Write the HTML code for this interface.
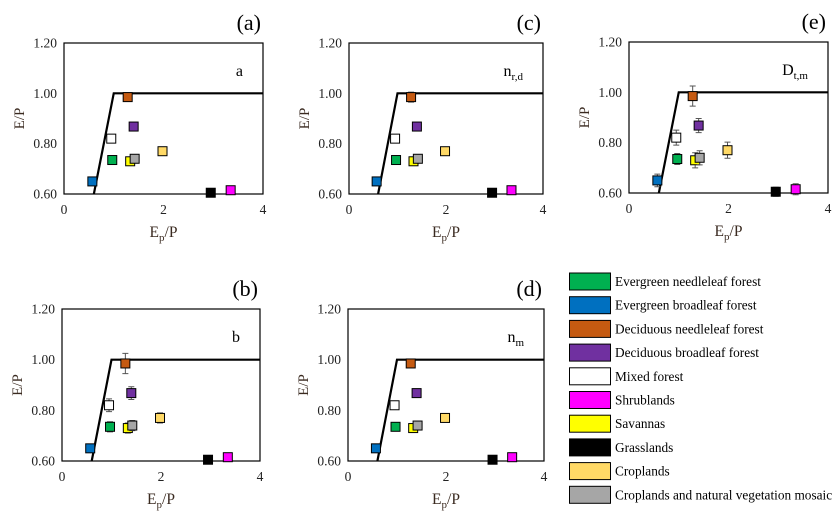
<!DOCTYPE html>
<html><head><meta charset="utf-8"><style>
body{margin:0;background:#fff;width:839px;height:515px;overflow:hidden}
svg{font-family:"Liberation Serif",serif}
</style></head><body>
<svg id="chart" width="839" height="515"></svg>
<script>
const categories=["Evergreen needleleaf forest","Evergreen broadleaf forest","Deciduous needleleaf forest","Deciduous broadleaf forest","Mixed forest","Shrublands","Savannas","Grasslands","Croplands","Croplands and natural vegetation mosaic"];
const colors=["#00b050","#0070c0","#c55a11","#7030a0","#ffffff","#ff00ff","#ffff00","#000000","#ffd966","#a6a6a6"];
const xVals=[0.97,0.57,1.28,1.40,0.95,3.35,1.33,2.95,1.98,1.42];
const yVals=[0.735,0.65,0.985,0.868,0.82,0.615,0.73,0.605,0.77,0.74];
const errA=[0,0,0,0,0,0,0,0,0,0];
const errB=[0.02,0.01,0.04,0.025,0.025,0.01,0.02,0.01,0.02,0.02];
const errC=[0.015,0.01,0.02,0.01,0.015,0.012,0.012,0.01,0.012,0.01];
const errD=[0.012,0.008,0.015,0.008,0.012,0.01,0.01,0.008,0.01,0.008];
const errE=[0.022,0.025,0.04,0.028,0.03,0.022,0.03,0.018,0.032,0.028];
const xTicks=[0,2,4];
const yTicks=[0.6,0.8,1.0,1.2];
const boundX=[0.6,1.0,4];
const boundY=[0.6,1.0,1.0];
const panels=[
 {id:"a",x0:64,x1:263,y0:43,y1:194,tag:"(a)",lab:"a",sub:"",err:errA},
 {id:"c",x0:349,x1:543,y0:43,y1:194,tag:"(c)",lab:"n",sub:"r,d",err:errC},
 {id:"e",x0:629,x1:828,y0:42,y1:193,tag:"(e)",lab:"D",sub:"t,m",err:errE},
 {id:"b",x0:62,x1:260,y0:309,y1:461,tag:"(b)",lab:"b",sub:"",err:errB},
 {id:"d",x0:348,x1:544,y0:309,y1:461,tag:"(d)",lab:"n",sub:"m",err:errD}];
const NS="http://www.w3.org/2000/svg";
const svg=document.getElementById("chart");
function mk(t,a,p){const e=document.createElementNS(NS,t);for(const k in a)e.setAttribute(k,a[k]);(p||svg).appendChild(e);return e;}
panels.forEach(p=>{
 const g=mk("g",{});
 
 
 const sx=v=>p.x0+(v/4)*(p.x1-p.x0);
 const sy=v=>p.y1-(v-0.6)/0.6*(p.y1-p.y0);
 const box=mk("rect",{x:p.x0,y:p.y0,width:p.x1-p.x0,height:p.y1-p.y0,fill:"none",stroke:"#000","stroke-width":1.2},g);
 
 
 yTicks.forEach(t=>{const e=mk("text",{x:p.x0-7,y:sy(t)+4.5,"text-anchor":"end","font-size":13.5,fill:"#222"},g);e.textContent=t.toFixed(2);
  
  });
 xTicks.forEach(t=>{const e=mk("text",{x:sx(t),y:p.y1+20,"text-anchor":"middle","font-size":13.5,fill:"#222"},g);e.textContent=t;
  
  });
 const yt=mk("text",{x:0,y:0,transform:`translate(${p.x0-40},${(p.y0+p.y1)/2}) rotate(-90)`,"text-anchor":"middle","font-size":15,fill:"#3a2a20"},g);yt.textContent="E/P";
 
 
 const xt=mk("text",{x:(p.x0+p.x1)/2,y:p.y1+43,"text-anchor":"middle","font-size":15.5,fill:"#3a2a20"},g);
 xt.innerHTML='E<tspan font-size="11" dy="4">p</tspan><tspan dy="-4">/P</tspan>';
 
 
 const tg=mk("text",{x:p.x1-2,y:p.y0-13,"text-anchor":"end","font-size":22,fill:"#000"},g);tg.textContent=p.tag;
 
 
 const lb=mk("text",{x:p.x1-20,y:p.y0+33,"text-anchor":"end","font-size":16,fill:"#000"},g);
 lb.innerHTML=p.lab+(p.sub?'<tspan font-size="11" dy="4">'+p.sub+'</tspan>':'');
 
 
 const ln=mk("polyline",{points:boundX.map((x,i)=>sx(x)+","+sy(boundY[i])).join(" "),fill:"none",stroke:"#000","stroke-width":2.2},g);
 
 
 categories.forEach((c,i)=>{
  const cx=sx(xVals[i]),cy=sy(yVals[i]),e=p.err[i];
  if(e>0){const eb=mk("path",{d:`M${cx},${sy(yVals[i]-e)}V${sy(yVals[i]+e)}M${cx-3},${sy(yVals[i]-e)}h6M${cx-3},${sy(yVals[i]+e)}h6`,stroke:"#555","stroke-width":1,fill:"none"},g);
   
   }
  const r=mk("rect",{x:cx-4.5,y:cy-4.5,width:9,height:9,fill:colors[i],stroke:"#000","stroke-width":1},g);
  
  
 });
});
const lg=mk("g",{});


categories.forEach((c,i)=>{
 const y=273+i*23.7;
 const r=mk("rect",{x:569.5,y:y,width:41,height:17,fill:colors[i],stroke:"#000","stroke-width":1},lg);
 
 
 const t=mk("text",{x:615,y:y+13,"font-size":13.3,fill:"#000"},lg);t.textContent=c;
 
 
});
</script>
</body></html>
